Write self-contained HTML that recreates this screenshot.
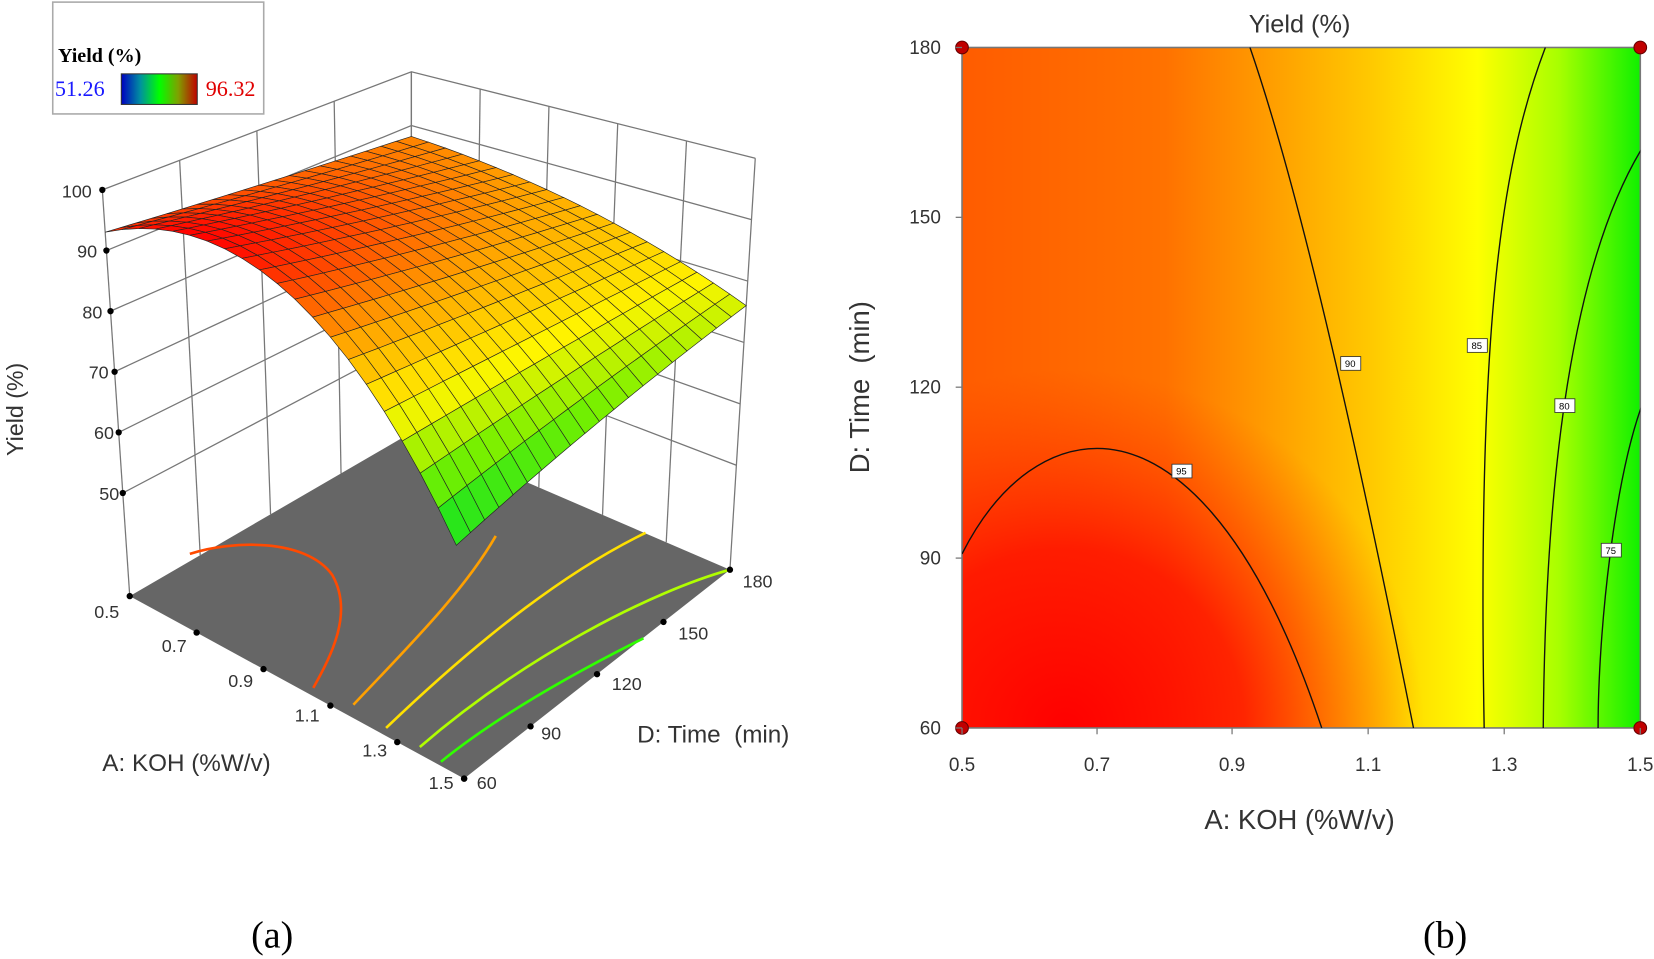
<!DOCTYPE html>
<html><head><meta charset="utf-8"><style>
html,body{margin:0;padding:0;background:#fff;}
svg{display:block;}
</style></head><body>
<svg id="s" width="1654" height="959" viewBox="0 0 1568 909" preserveAspectRatio="none" xmlns="http://www.w3.org/2000/svg" font-family="Liberation Sans, sans-serif">
<defs>
<linearGradient id="hg" x1="0" y1="0" x2="1" y2="0">
<stop offset="0" stop-color="#ff5c00"/>
<stop offset="0.3" stop-color="#ff7200"/>
<stop offset="0.45" stop-color="#ff9c00"/>
<stop offset="0.6" stop-color="#ffc800"/>
<stop offset="0.76" stop-color="#ffff00"/>
<stop offset="0.88" stop-color="#a8ff00"/>
<stop offset="1" stop-color="#10f000"/>
</linearGradient>
<radialGradient id="rg" cx="1010" cy="690" r="340" gradientUnits="userSpaceOnUse">
<stop offset="0" stop-color="#ff0000" stop-opacity="1"/>
<stop offset="0.5" stop-color="#ff0a00" stop-opacity="0.8"/>
<stop offset="1" stop-color="#ff3000" stop-opacity="0"/>
</radialGradient>
<linearGradient id="cb" x1="0" y1="0" x2="1" y2="0">
<stop offset="0" stop-color="#0000c0"/><stop offset="0.25" stop-color="#0090a0"/>
<stop offset="0.5" stop-color="#00ff00"/><stop offset="0.75" stop-color="#80a000"/>
<stop offset="1" stop-color="#c00000"/>
</linearGradient>
<clipPath id="pc"><rect x="912" y="45" width="643" height="645"/></clipPath>
</defs>

<rect x="50" y="2" width="200" height="106" fill="#fff" stroke="#aaa" stroke-width="1.5"/>
<text x="55" y="59" font-family="Liberation Serif, serif" font-weight="bold" font-size="19">Yield (%)</text>
<text x="52" y="91" font-family="Liberation Serif, serif" font-size="21" fill="#1a1aff">51.26</text>
<rect x="115" y="70" width="72" height="29" fill="url(#cb)" stroke="#333"/>
<text x="195" y="91" font-family="Liberation Serif, serif" font-size="21" fill="#e00000">96.32</text>

<g id="box" stroke="#777" stroke-width="1.2" fill="none"></g>
<polygon points="123,565 440,738 692,540 390,410" fill="#666"/>
<g fill="none" stroke-width="2.5">
<path d="M180,525 C220,512 290,510 315,545 C335,580 315,620 297,652" stroke="#ff4a00"/>
<path d="M470,508 C440,560 390,610 335,668" stroke="#ffa000"/>
<path d="M612,505 C540,540 460,600 366,690" stroke="#ffe000"/>
<path d="M692,540 C620,560 500,620 398,708" stroke="#b0ff00"/>
<path d="M610,605 C540,640 470,680 418,722" stroke="#30ff00"/>
</g>
<g id="surf"></g>
<g id="ticks"></g>
<g font-size="17" fill="#333">
<text x="87" y="187" text-anchor="end">100</text>
<text x="92" y="244" text-anchor="end">90</text>
<text x="97" y="302" text-anchor="end">80</text>
<text x="103" y="359" text-anchor="end">70</text>
<text x="108" y="416" text-anchor="end">60</text>
<text x="113" y="474" text-anchor="end">50</text>
<text x="113" y="586" text-anchor="end">0.5</text>
<text x="177" y="618" text-anchor="end">0.7</text>
<text x="240" y="651" text-anchor="end">0.9</text>
<text x="303" y="684" text-anchor="end">1.1</text>
<text x="367" y="717" text-anchor="end">1.3</text>
<text x="430" y="748" text-anchor="end">1.5</text>
<text x="452" y="748">60</text>
<text x="513" y="701">90</text>
<text x="580" y="654">120</text>
<text x="643" y="606">150</text>
<text x="704" y="557">180</text>
</g>
<text x="22" y="388" font-size="22" fill="#333" text-anchor="middle" transform="rotate(-90 22 388)">Yield (%)</text>
<text x="97" y="731" font-size="23" fill="#333">A: KOH (%W/v)</text>
<text x="604" y="704" font-size="23" fill="#333">D: Time&#160; (min)</text>
<text x="258" y="898" font-family="Liberation Serif, serif" font-size="36" text-anchor="middle">(a)</text>

<g clip-path="url(#pc)">
<rect x="912" y="45" width="643" height="645" fill="url(#hg)"/>
<rect x="912" y="45" width="643" height="645" fill="url(#rg)"/>
</g>
<rect x="912" y="45" width="643" height="645" fill="none" stroke="#777" stroke-width="1.5"/>
<g fill="none" stroke="#111" stroke-width="1.3" clip-path="url(#pc)">
<path d="M912,525 C950,450 1000,425 1040,425 C1110,425 1190,500 1253,690"/>
<path d="M1185,45 C1235,190 1290,440 1340,690"/>
<path d="M1465,45 C1425,150 1400,300 1407,690"/>
<path d="M1557,140 C1490,250 1465,450 1463,690"/>
<path d="M1560,375 C1530,450 1515,600 1515,690"/>
</g>
<g font-size="9" text-anchor="middle">
<rect x="1111" y="440" width="19" height="13" fill="#fff" stroke="#333" stroke-width="0.8"/><text x="1120" y="450">95</text>
<rect x="1271" y="338" width="19" height="13" fill="#fff" stroke="#333" stroke-width="0.8"/><text x="1280" y="348">90</text>
<rect x="1391" y="321" width="19" height="13" fill="#fff" stroke="#333" stroke-width="0.8"/><text x="1400" y="331">85</text>
<rect x="1474" y="378" width="19" height="13" fill="#fff" stroke="#333" stroke-width="0.8"/><text x="1483" y="388">80</text>
<rect x="1518" y="515" width="19" height="13" fill="#fff" stroke="#333" stroke-width="0.8"/><text x="1527" y="525">75</text>
</g>
<g fill="#c00000" stroke="#600" stroke-width="1">
<circle cx="912" cy="45" r="6"/><circle cx="1555" cy="45" r="6"/>
<circle cx="912" cy="690" r="6"/><circle cx="1555" cy="690" r="6"/>
</g>
<g stroke="#777" stroke-width="1.2">
<line x1="906" y1="45" x2="912" y2="45"/><line x1="906" y1="206" x2="912" y2="206"/>
<line x1="906" y1="367" x2="912" y2="367"/><line x1="906" y1="529" x2="912" y2="529"/>
<line x1="906" y1="690" x2="912" y2="690"/>
<line x1="912" y1="690" x2="912" y2="696"/><line x1="1040" y1="690" x2="1040" y2="696"/>
<line x1="1168" y1="690" x2="1168" y2="696"/><line x1="1297" y1="690" x2="1297" y2="696"/>
<line x1="1426" y1="690" x2="1426" y2="696"/><line x1="1555" y1="690" x2="1555" y2="696"/>
</g>
<g font-size="18" fill="#333">
<text x="892" y="51" text-anchor="end">180</text>
<text x="892" y="212" text-anchor="end">150</text>
<text x="892" y="373" text-anchor="end">120</text>
<text x="892" y="535" text-anchor="end">90</text>
<text x="892" y="696" text-anchor="end">60</text>
<g text-anchor="middle">
<text x="912" y="731">0.5</text><text x="1040" y="731">0.7</text><text x="1168" y="731">0.9</text>
<text x="1297" y="731">1.1</text><text x="1426" y="731">1.3</text><text x="1555" y="731">1.5</text>
</g>
</g>
<text x="1232" y="31" font-size="24" fill="#333" text-anchor="middle">Yield (%)</text>
<text x="1232" y="786" font-size="26" fill="#333" text-anchor="middle">A: KOH (%W/v)</text>
<text x="824" y="367" font-size="26" fill="#333" text-anchor="middle" transform="rotate(-90 824 367)">D: Time&#160; (min)</text>
<text x="1370" y="898" font-family="Liberation Serif, serif" font-size="36" text-anchor="middle">(b)</text>
</svg>
<script>
(function(){
var NS="http://www.w3.org/2000/svg";
var Lf=[123,565],Ff=[440,738],Rf=[692,540],Bf=[390,410];
var Lt=[97,180],Ft=[424,262],Rt=[716,150],Bt=[390,68];
function bl(A,Fp,Rp,Bp,u,v,k){return A[k]*(1-u)*(1-v)+Fp[k]*u*(1-v)+Rp[k]*u*v+Bp[k]*(1-u)*v;}
function P(a,t,z){var u=a-0.5,v=t,f=(z-33)/67;
var fx=bl(Lf,Ff,Rf,Bf,u,v,0),fy=bl(Lf,Ff,Rf,Bf,u,v,1),tx=bl(Lt,Ft,Rt,Bt,u,v,0),ty=bl(Lt,Ft,Rt,Bt,u,v,1);
return [fx+(tx-fx)*f,fy+(ty-fy)*f];}
function Y(a,t){var y0=96.3-56*(a-0.742)*(a-0.742);var d=a-0.5;var y1=88-3*d-9*d*d;return y0*(1-t)+y1*t;}
var stops=[[0,[0,0,255]],[0.12,[0,190,190]],[0.28,[0,225,40]],[0.45,[120,240,0]],[0.6,[255,245,0]],[0.78,[255,160,0]],[0.9,[255,70,0]],[1,[255,0,0]]];
function col(z){var f=(z-51.26)/45.06;f=Math.max(0,Math.min(1,f));
for(var i=1;i<stops.length;i++){if(f<=stops[i][0]){var a=stops[i-1],b=stops[i],k=(f-a[0])/(b[0]-a[0]);
return "rgb("+[0,1,2].map(function(j){return Math.round(a[1][j]+(b[1][j]-a[1][j])*k)}).join(",")+")";}}return "red";}
function el(n,at,p){var e=document.createElementNS(NS,n);for(var k in at)e.setAttribute(k,at[k]);p.appendChild(e);return e;}
function pl(arr,p){return el("polyline",{points:arr.map(function(q){return q[0].toFixed(1)+","+q[1].toFixed(1)}).join(" ")},p);}
var box=document.getElementById("box");
pl([Lt,Bt,Rt],box);pl([Lf,Lt],box);pl([Bf,Bt],box);pl([Rf,Rt],box);
for(var i=1;i<6;i++){var z=40+i*10;pl([P(0.5,0,z),P(0.5,1,z),P(1.5,1,z)],box);}
for(var i=1;i<5;i++){var t=i/4;pl([P(0.5,t,33),P(0.5,t,100)],box);}
for(var i=1;i<5;i++){var a=0.5+i/5;pl([P(a,1,33),P(a,1,100)],box);}
var tk=document.getElementById("ticks");
for(var i=0;i<6;i++){var p=P(0.5,0,50+i*10);el("circle",{cx:p[0],cy:p[1],r:3,fill:"#000"},tk);}
for(var i=0;i<6;i++){var p=P(0.5+i*0.2,0,33);el("circle",{cx:p[0],cy:p[1],r:3,fill:"#000"},tk);}
for(var i=0;i<5;i++){var p=P(1.5,i/4,33);el("circle",{cx:p[0],cy:p[1],r:3,fill:"#000"},tk);}
var g=document.getElementById("surf"),N=20,cells=[];
for(var i=0;i<N;i++)for(var j=0;j<N;j++){var a0=0.5+i/N,a1=0.5+(i+1)/N,t0=j/N,t1=(j+1)/N;
cells.push({d:(1.5-(a0+a1)/2)+(t0+t1)/2,a0:a0,a1:a1,t0:t0,t1:t1});}
cells.sort(function(x,y){return y.d-x.d});
cells.forEach(function(c){var pts=[[c.a0,c.t0],[c.a1,c.t0],[c.a1,c.t1],[c.a0,c.t1]].map(function(q){return P(q[0],q[1],Y(q[0],q[1]))});
var zc=Y((c.a0+c.a1)/2,(c.t0+c.t1)/2);
el("polygon",{points:pts.map(function(p){return p[0].toFixed(1)+","+p[1].toFixed(1)}).join(" "),fill:col(zc),stroke:"#222","stroke-width":"0.6"},g);});
})();
</script>
</body></html>
